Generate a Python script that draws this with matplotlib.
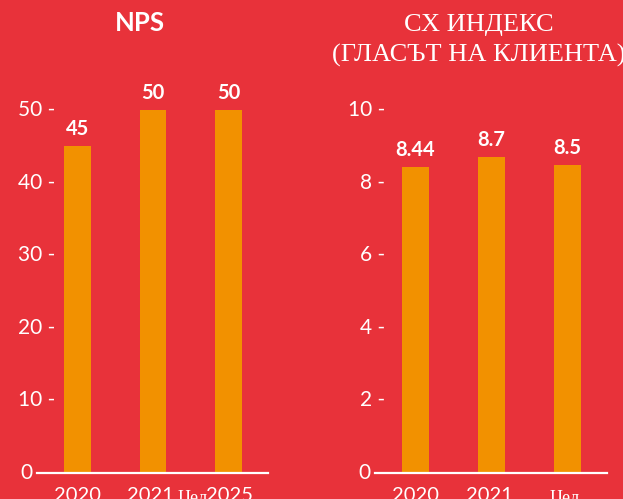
import matplotlib
matplotlib.use("Agg")
import matplotlib.pyplot as plt
import matplotlib.transforms as mtransforms

# data
nps_years = ["2020", "2021", "2025"]
nps_values = [45, 50, 50]
nps_ticks = [0, 10, 20, 30, 40, 50]

cx_years = ["2020", "2021", "2025"]
cx_values = [8.44, 8.7, 8.5]
cx_labels = ["8.44", "8.7", "8.5"]
cx_ticks = [0, 2, 4, 6, 8, 10]

BG = "#E8323A"
BAR = "#F29100"
SANS = ["Lato", "DejaVu Sans"]
SERIF = ["Liberation Serif", "DejaVu Serif"]

fig = plt.figure(figsize=(6.23, 4.99), dpi=100, facecolor=BG)


def panel(rect, values, labels, years, ticks, ymax, tick_right, goal_inline):
    ax = fig.add_axes(rect)
    ax.set_facecolor(BG)
    xs = list(range(len(values)))
    ax.bar(xs, values, width=0.355, color=BAR, zorder=2)
    ax.set_xlim(-0.53, 2.52)
    ax.set_ylim(0, ymax)
    for s in ax.spines.values():
        s.set_visible(False)
    ax.set_xticks([])
    ax.set_yticks([])
    ax.axhline(0, color="white", lw=1.6, zorder=3, clip_on=False)

    # value labels
    for x, v, lab in zip(xs, values, labels):
        ax.annotate(lab, (x, v), xytext=(0, 5), textcoords="offset points",
                    ha="center", va="bottom", color="white",
                    fontsize=14.5, fontweight="bold", family=SANS)

    # y tick labels drawn as text with a dash
    tr = mtransforms.blended_transform_factory(ax.transAxes, ax.transData)
    for t in ticks:
        lab = "0" if t == 0 else f"{t} -"
        xpos = -0.018 if t == 0 else tick_right
        ax.text(xpos, t, lab, transform=tr, ha="right", va="center",
                color="white", fontsize=15, family=SANS)

    # category labels
    trx = mtransforms.blended_transform_factory(ax.transData, ax.transAxes)
    kw = dict(xycoords=trx, textcoords="offset points", va="top",
              color="white", annotation_clip=False)
    for x, yr in zip(xs, years):
        if x < 2:
            ax.annotate(yr, (x, 0), xytext=(-x * 1.5, -10), ha="center",
                        fontsize=14.5, family=SANS, **kw)
        elif goal_inline:
            ax.annotate(yr, (x, 0), xytext=(0.5, -10), ha="center",
                        fontsize=14.5, family=SANS, **kw)
            ax.annotate("Цел", (x, 0), xytext=(-15, -12.5), ha="right",
                        fontsize=13, family=SERIF, **kw)
        else:
            ax.annotate("Цел", (x, 0), xytext=(-2, -12.5), ha="center",
                        fontsize=13, family=SERIF, **kw)
    return ax


ax1 = panel([0.0594, 0.0521, 0.371, 0.800], nps_values,
            [str(v) for v in nps_values], nps_years, nps_ticks, 55, 0.08, True)
ax2 = panel([0.602, 0.0521, 0.372, 0.800], cx_values, cx_labels,
            cx_years, cx_ticks, 11, 0.045, False)

fig.text(0.225, 0.953, "NPS", ha="center", va="center", color="white",
         fontsize=18.5, fontweight="bold", family=SANS)
fig.text(0.768, 0.950, "СХ ИНДЕКС", ha="center", va="center", color="white",
         fontsize=19, family=SERIF)
fig.text(0.768, 0.888, "(ГЛАСЪТ НА КЛИЕНТА)", ha="center", va="center",
         color="white", fontsize=19, family=SERIF)

fig.savefig("out.png", dpi=100, facecolor=BG)
